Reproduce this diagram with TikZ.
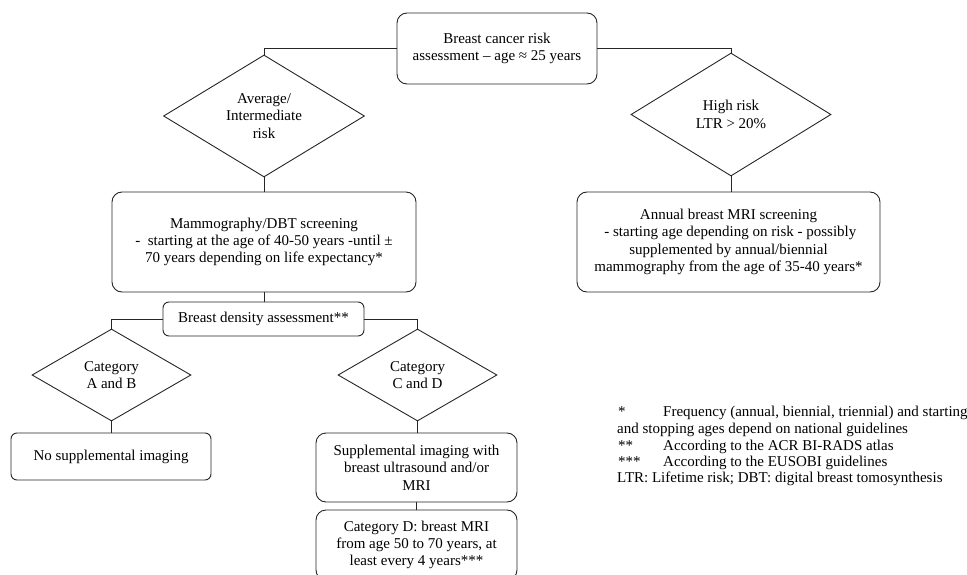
\documentclass[tikz,border=0pt]{standalone}
\usepackage{fontspec}
\setmainfont{Liberation Serif}
\usetikzlibrary{shapes.geometric}
\begin{document}
\begin{tikzpicture}[x=1pt,y=-1pt,
  every node/.style={font=\fontsize{15}{17.3}\selectfont, text=black},
  conn/.style={draw=black!85, line width=0.9pt},
  bigbox/.style={draw=black!85, line width=0.9pt, rounded corners=10pt, align=center, inner sep=0pt},
  smallbox/.style={draw=black!85, line width=0.9pt, rounded corners=6pt, align=center, inner sep=0pt},
  dia/.style={diamond, draw=black!85, line width=0.9pt, inner sep=0pt, align=center},
  fn/.style={anchor=west, inner sep=0pt, text height=10.5pt, text depth=3.5pt}]
\useasboundingbox (0,0) rectangle (967,575);
% boxes and decisions
\node[bigbox, minimum width=200pt, minimum height=71pt] (top) at (497,48.5) {Breast cancer risk\\assessment – age ≈ 25 years};
\node[dia, minimum width=201pt, minimum height=122pt, aspect=1.65] (avg) at (264,116) {Average/\\Intermediate\\risk};
\node[dia, minimum width=200pt, minimum height=123pt, aspect=1.65] (high) at (731,114.5) {High risk\\LTR > 20\%};
\node[bigbox, minimum width=304pt, minimum height=100pt] (mammo) at (264,242) {Mammography/DBT screening\\- \ starting at the age of 40-50 years -until ±\\70 years depending on life expectancy*};
\node[bigbox, minimum width=303pt, minimum height=100pt] (mri) at (728.5,242) {Annual breast MRI screening\\\ - starting age depending on risk - possibly\\supplemented by annual/biennial\\mammography from the age of 35-40 years*};
\node[smallbox, minimum width=201pt, minimum height=34pt] (dens) at (263.5,319) {Breast density assessment**};
\node[dia, minimum width=159pt, minimum height=92pt, aspect=1.73] (catab) at (111.5,375) {Category\\A and B};
\node[dia, minimum width=159pt, minimum height=92pt, aspect=1.73] (catcd) at (417.5,375) {Category\\C and D};
\node[smallbox, minimum width=200pt, minimum height=47pt] (nosupp) at (111,456.5) {No supplemental imaging};
\node[bigbox, minimum width=201pt, minimum height=69pt] (supp) at (416.5,467.5) {Supplemental imaging with\\breast ultrasound and/or\\MRI};
\node[bigbox, minimum width=201pt, minimum height=70pt] (catd) at (416.5,545) {Category D: breast MRI\\from age 50 to 70 years, at\\least every 4 years***};
% connectors
\draw[conn] (top.west) -| (avg.north);
\draw[conn] (top.east) -| (high.north);
\draw[conn] (avg.south) -- (avg.south |- mammo.north);
\draw[conn] (high.south) -- (high.south |- mri.north);
\draw[conn] (mammo.south) -- (mammo.south |- dens.north);
\draw[conn] (dens.west) -| (catab.north);
\draw[conn] (dens.east) -| (catcd.north);
\draw[conn] (catab.south) -- (catab.south |- nosupp.north);
\draw[conn] (catcd.south) -- (catcd.south |- supp.north);
\draw[conn] (supp.south) -- (supp.south |- catd.north);
% footnotes
\node[fn] (f1m) at (618,413) {*};
\node[fn] (f1) at (663,413) {Frequency (annual, biennial, triennial) and starting};
\node[fn] (f1b) at (617,430) {and stopping ages depend on national guidelines};
\node[fn] (f2m) at (618,446.5) {**};
\node[fn] (f2) at (663,446.5) {According to the ACR BI-RADS atlas};
\node[fn] (f3m) at (618,463) {***};
\node[fn] (f3) at (663,463) {According to the EUSOBI guidelines};
\node[fn] (f4) at (617,479) {LTR: Lifetime risk; DBT: digital breast tomosynthesis};
\end{tikzpicture}
\end{document}
